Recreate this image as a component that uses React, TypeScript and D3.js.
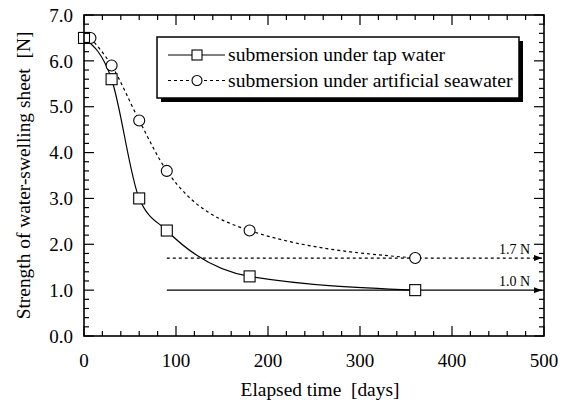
import React from "react";
import * as d3 from "d3";

const tapDays = [0, 30, 60, 90, 180, 360];
const tapStrength = [6.5, 5.6, 3.0, 2.3, 1.3, 1.0];
const seaDays = [7, 30, 60, 90, 180, 360];
const seaStrength = [6.5, 5.9, 4.7, 3.6, 2.3, 1.7];
const xTicks = [0, 100, 200, 300, 400, 500];
const yTicks = [0, 1, 2, 3, 4, 5, 6, 7];
const refLevels = [
  { value: 1.0, start: 90, label: "1.0 N", dashed: false },
  { value: 1.7, start: 90, label: "1.7 N", dashed: true },
];
const legendLabels = ["submersion under tap water", "submersion under artificial seawater"];

const W = 571;
const H = 402;
const FONT = '"Liberation Serif", Tinos, "Times New Roman", "Nimbus Roman", "DejaVu Serif", serif';

export default function App() {
  const left = 84, right = 544, top = 15, bottom = 336;
  const x = d3.scaleLinear().domain([0, 500]).range([left, right]);
  const y = d3.scaleLinear().domain([0, 7]).range([bottom, top]);

  const line = d3
    .line<[number, number]>()
    .x((d) => x(d[0]))
    .y((d) => y(d[1]))
    .curve(d3.curveMonotoneX);

  const tapPts: [number, number][] = tapDays.map((d, i) => [d, tapStrength[i]]);
  const seaPts: [number, number][] = seaDays.map((d, i) => [d, seaStrength[i]]);

  const xMinor = d3.range(0, 501, 20);
  const yMinor = d3.range(0, 7.001, 0.2);
  const isMajorX = (v: number) => Math.abs(v % 100) < 1e-6;
  const isMajorY = (v: number) => Math.abs(v - Math.round(v)) < 1e-6;

  const tickEls: JSX.Element[] = [];
  xMinor.forEach((v, i) => {
    const len = isMajorX(v) ? 10 : 5;
    const px = x(v);
    tickEls.push(<line key={"xb" + i} x1={px} x2={px} y1={bottom} y2={bottom - len} stroke="#000" strokeWidth={1.2} />);
    tickEls.push(<line key={"xt" + i} x1={px} x2={px} y1={top} y2={top + len} stroke="#000" strokeWidth={1.2} />);
  });
  yMinor.forEach((v, i) => {
    const len = isMajorY(v) ? 10 : 5;
    const py = y(v);
    tickEls.push(<line key={"yl" + i} x1={left} x2={left + len} y1={py} y2={py} stroke="#000" strokeWidth={1.2} />);
    tickEls.push(<line key={"yr" + i} x1={right} x2={right - len} y1={py} y2={py} stroke="#000" strokeWidth={1.2} />);
  });

  const sq = 11;
  const r = 5.5;

  const lg = { x: 157, y: 37, w: 362, h: 61 };

  return (
    <svg width={W} height={H} style={{ position: "absolute", left: 0, top: 0, background: "#fff", fontFamily: FONT }}>
      <defs>
        <marker id="arr" viewBox="0 0 8 6" refX="8" refY="3" markerWidth="8" markerHeight="6" markerUnits="userSpaceOnUse" orient="auto">
          <path d="M0,0 L8,3 L0,6 Z" fill="#000" />
        </marker>
      </defs>

      {refLevels.map((rl, i) => (
        <g key={"ref" + i}>
          <line
            x1={x(rl.start)}
            x2={right - 2}
            y1={y(rl.value)}
            y2={y(rl.value)}
            stroke="#000"
            strokeWidth={1.2}
            strokeDasharray={rl.dashed ? "3,3" : undefined}
            markerEnd="url(#arr)"
          />
          <text x={530} y={y(rl.value) - 4} textAnchor="end" fontSize={14}>
            {rl.label}
          </text>
        </g>
      ))}

      <path d={line(tapPts) || ""} fill="none" stroke="#000" strokeWidth={1.2} />
      <path d={line(seaPts) || ""} fill="none" stroke="#000" strokeWidth={1.2} strokeDasharray="3,3" />

      {seaPts.map((p, i) => (
        <circle key={"c" + i} cx={x(p[0])} cy={y(p[1])} r={r} fill="#fff" stroke="#000" strokeWidth={1.1} />
      ))}
      {tapPts.map((p, i) => (
        <rect key={"s" + i} x={x(p[0]) - sq / 2} y={y(p[1]) - sq / 2} width={sq} height={sq} fill="#fff" stroke="#000" strokeWidth={1.1} />
      ))}

      {tickEls}
      <rect x={left} y={top} width={right - left} height={bottom - top} fill="none" stroke="#000" strokeWidth={1.6} />

      {xTicks.map((v) => (
        <text key={"xl" + v} x={x(v)} y={367} textAnchor="middle" fontSize={19}>
          {v}
        </text>
      ))}
      {yTicks.map((v) => (
        <text key={"yl" + v} x={73} y={y(v)} dy="0.35em" textAnchor="end" fontSize={19}>
          {v.toFixed(1)}
        </text>
      ))}

      <text x={320} y={396} textAnchor="middle" fontSize={19.4} style={{ whiteSpace: "pre" }}>
        {"Elapsed time  [days]"}
      </text>
      <text
        transform={`translate(30, ${(top + bottom) / 2}) rotate(-90)`}
        textAnchor="middle"
        fontSize={19.4}
        style={{ whiteSpace: "pre" }}
      >
        {"Strength of water-swelling sheet  [N]"}
      </text>

      <rect x={lg.x + 4} y={lg.y + 4} width={lg.w} height={lg.h} fill="#000" />
      <rect x={lg.x} y={lg.y} width={lg.w} height={lg.h} fill="#fff" stroke="#000" strokeWidth={1.5} />
      <line x1={168} x2={225} y1={55} y2={55} stroke="#000" strokeWidth={1.2} />
      <rect x={197 - 5} y={55 - 5} width={10} height={10} fill="#fff" stroke="#000" strokeWidth={1.1} />
      <text x={228} y={55} dy="0.33em" fontSize={19.6}>
        {legendLabels[0]}
      </text>
      <line x1={168} x2={225} y1={80.5} y2={80.5} stroke="#000" strokeWidth={1.2} strokeDasharray="3,3" />
      <circle cx={197} cy={80.5} r={5} fill="#fff" stroke="#000" strokeWidth={1.1} />
      <text x={228} y={80.5} dy="0.33em" fontSize={19.6}>
        {legendLabels[1]}
      </text>
    </svg>
  );
}
